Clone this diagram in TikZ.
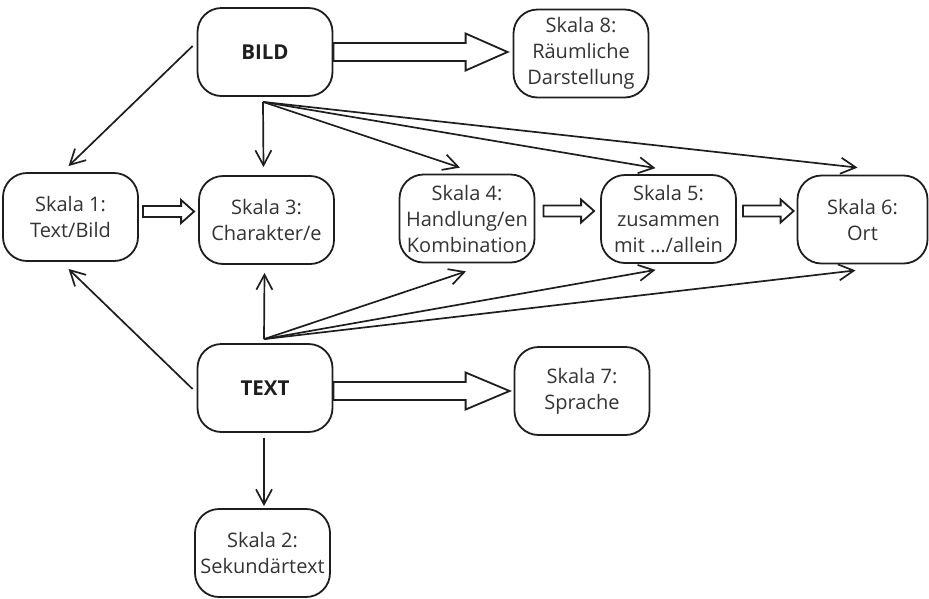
\documentclass[tikz,border=0pt]{standalone}
\usepackage{fontspec}
\setmainfont{Open Sans}
\usetikzlibrary{arrows.meta,calc}
\definecolor{ln}{HTML}{1E1E1E}
\definecolor{tx}{HTML}{333333}
\tikzset{
  box/.style={draw=ln, line width=1.8pt, rounded corners=24pt, minimum width=135pt,
    minimum height=88pt, align=center, font=\fontsize{20}{26}\selectfont, text=tx, inner sep=0pt},
  boldbox/.style={box, font=\fontsize{20.5}{26}\selectfont\bfseries, text=ln},
  conn/.style={draw=ln, line width=1.7pt, -{Straight Barb[length=15pt,width=16pt]}},
  blockarrow/.style={draw=ln, line width=1.8pt, fill=white, line join=miter},
}
\newcommand{\blockarr}[5]{%
  \draw[blockarrow] let \p1=(#1), \p2=(#2) in
    (\x1,\y1+#3) -- (\x2-#5,\y1+#3) -- (\x2-#5,\y1+#4) -- (\x2,\y1)
    -- (\x2-#5,\y1-#4) -- (\x2-#5,\y1-#3) -- (\x1,\y1-#3) -- cycle;}
\begin{document}
\begin{tikzpicture}[x=1pt,y=-1pt]
\useasboundingbox (0,0) rectangle (929,598);
% nodes
\node[boldbox] (bild) at (265,52) {BILD};
\node[box] (s8) at (581,53.5) {Skala 8:\\Räumliche\\Darstellung};
\node[box] (s1) at (70.5,217) {Skala 1:\\Text/Bild};
\node[box] (s3) at (266.5,220) {Skala 3:\\Charakter/e};
\node[box] (s4) at (467,218.5) {Skala 4:\\Handlung/en\\Kombination};
\node[box] (s5) at (668.5,219) {Skala 5:\\zusammen\\mit …/allein};
\node[box, minimum width=130pt] (s6) at (862.5,219.5) {Skala 6:\\Ort};
\node[boldbox] (text) at (265,388) {TEXT};
\node[box] (s7) at (582,391) {Skala 7:\\Sprache};
\node[box] (s2) at (262.5,553) {Skala 2:\\Sekundärtext};
% fan origins
\coordinate (bo) at ($(bild.south)+(-2,5)$);
\coordinate (to) at ($(text.north)+(-1,-4)$);
% connectors from BILD
\draw[conn] ($(bild.west)+(-4,-6)$) -- ($(s1.north)+(-2,-6)$);
\draw[conn] (bo) -- ($(s3.north)+(-3,-8)$);
\draw[conn] (bo) -- ($(s4.north)+(-7,-6)$);
\draw[conn] (bo) -- ($(s5.north)+(-13,-6)$);
\draw[conn] (bo) -- ($(s6.north)+(-5,-7)$);
% connectors from TEXT
\draw[conn] ($(text.west)+(-4,1)$) -- ($(s1.south)+(-2,7)$);
\draw[conn] (to) -- ($(s3.south)+(-2,8)$);
\draw[conn] (to) -- ($(s4.south)+(-1,8)$);
\draw[conn] (to) -- ($(s5.south)+(-13,6)$);
\draw[conn] (to) -- ($(s6.south)+(-7,6)$);
\draw[conn] ($(text.south)+(-1,5)$) -- ($(s2.north)+(1.5,-2)$);
% block arrows
\blockarr{bild.east}{$(s8.west)+(-5,0)$}{9pt}{18.5pt}{42pt}
\blockarr{$(text.east)+(0,3)$}{$(s7.west)+(-4,0)$}{9pt}{18.5pt}{44pt}
\blockarr{$(s1.east)+(4,-5.5)$}{$(s3.west)+(-4,0)$}{5.5pt}{11.5pt}{13pt}
\blockarr{$(s4.east)+(8,-7.5)$}{$(s5.west)+(-6,0)$}{5.5pt}{11.5pt}{13pt}
\blockarr{$(s5.east)+(6,-8)$}{$(s6.west)+(-3,0)$}{5.5pt}{11.5pt}{13pt}
\end{tikzpicture}
\end{document}
